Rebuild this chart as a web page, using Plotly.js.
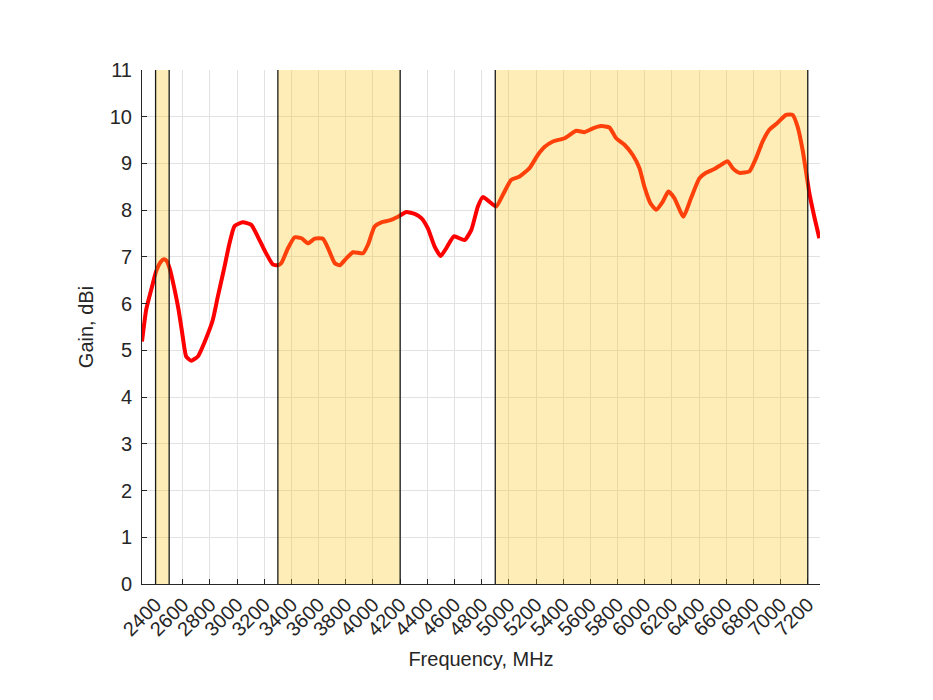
<!DOCTYPE html>
<html>
<head>
<meta charset="utf-8">
<script src="https://cdn.plot.ly/plotly-3.0.1.min.js"></script>
<style>html,body{margin:0;padding:0;background:#fff;}#chart{width:933px;height:700px;}</style>
</head>
<body>
<div id="chart"></div>
<script>
// Frequency (MHz) and gain (dBi)
const freq = [2300,2331,2368,2404,2440,2461,2480,2503,2540,2569,2596,2625,2662,2711,2772,2821,2858,2902,2944,2981,
  3042,3103,3165,3213,3262,3299,3326,3375,3424,3474,3522,3571,3632,3669,3718,3755,3804,3853,3927,3963,
  4012,4062,4123,4184,4246,4307,4356,4404,4454,4498,4540,4596,4674,4724,4772,4809,4858,4907,4956,5018,
  5079,5152,5213,5262,5324,5410,5496,5557,5618,5679,5740,5790,5851,5912,5961,5998,6042,6084,6132,6174,
  6218,6285,6341,6402,6451,6512,6562,6610,6647,6696,6770,6819,6868,6917,6978,7040,7088,7125,7162,7187,
  7212,7248,7285];
const gain = [5.19,5.87,6.30,6.69,6.90,6.95,6.92,6.76,6.30,5.87,5.37,4.87,4.78,4.87,5.26,5.65,6.15,6.72,7.29,7.66,
  7.74,7.69,7.36,7.08,6.84,6.82,6.87,7.19,7.42,7.40,7.29,7.39,7.39,7.19,6.87,6.82,6.97,7.10,7.08,7.26,
  7.65,7.74,7.78,7.86,7.96,7.92,7.83,7.61,7.22,7.02,7.19,7.44,7.36,7.58,8.08,8.28,8.18,8.08,8.33,8.65,
  8.72,8.90,9.18,9.35,9.47,9.54,9.70,9.67,9.75,9.80,9.77,9.54,9.40,9.18,8.90,8.50,8.15,8.01,8.18,8.40,
  8.26,7.86,8.26,8.68,8.80,8.88,8.97,9.05,8.90,8.80,8.83,9.11,9.47,9.72,9.87,10.04,10.04,9.79,9.29,8.83,
  8.36,7.86,7.40];
// Shaded frequency bands (MHz)
const bandStart = [2400, 3300, 4900];
const bandEnd   = [2500, 4200, 7200];
const xTicks = [2400,2600,2800,3000,3200,3400,3600,3800,4000,4200,4400,4600,4800,5000,5200,5400,5600,5800,6000,6200,6400,6600,6800,7000,7200];
const yTicks = [0,1,2,3,4,5,6,7,8,9,10,11];

const shapes = [];
bandStart.forEach((s, i) => {
  shapes.push({type:'rect', xref:'x', yref:'paper', x0:s, x1:bandEnd[i], y0:0, y1:1,
    fillcolor:'rgb(252,200,30)', opacity:0.32, line:{width:0}, layer:'above'});
});
bandStart.concat(bandEnd).forEach(v => {
  shapes.push({type:'line', xref:'x', yref:'paper', x0:v, x1:v, y0:0, y1:1,
    line:{color:'#1a1a1a', width:1.3}, layer:'above'});
});

const font = 'Liberation Sans, Arial, Helvetica, sans-serif';
const trace = {x:freq, y:gain, type:'scatter', mode:'lines',
  line:{color:'#ff0000', width:4, shape:'spline', smoothing:0.5}, hoverinfo:'skip'};

const layout = {
  width:933, height:700,
  margin:{l:142, r:113, t:70, b:116},
  paper_bgcolor:'#ffffff', plot_bgcolor:'#ffffff',
  showlegend:false,
  font:{family:font, color:'#262626', size:20},
  xaxis:{range:[2300,7290], tickvals:xTicks, ticktext:xTicks.map(String), tickangle:-45,
    showgrid:true, gridcolor:'#e2e2e2', gridwidth:1, zeroline:false,
    showline:true, linecolor:'#262626', linewidth:1, ticks:'inside', ticklen:5, tickcolor:'#262626',
    tickfont:{family:font, size:20, color:'#262626'},
    title:{text:'Frequency, MHz', font:{family:font, size:20, color:'#262626'}, standoff:12}},
  yaxis:{range:[0,11], tickvals:yTicks, ticktext:yTicks.map(String),
    showgrid:true, gridcolor:'#e2e2e2', gridwidth:1, zeroline:false,
    showline:true, linecolor:'#262626', linewidth:1, ticks:'inside', ticklen:5, tickcolor:'#262626',
    tickfont:{family:font, size:20, color:'#262626'}, ticklabelstandoff:5,
    title:{text:'Gain, dBi', font:{family:font, size:20, color:'#262626'}, standoff:10}},
  shapes:shapes
};
Plotly.newPlot('chart', [trace], layout, {staticPlot:true, displayModeBar:false});
</script>
</body>
</html>
